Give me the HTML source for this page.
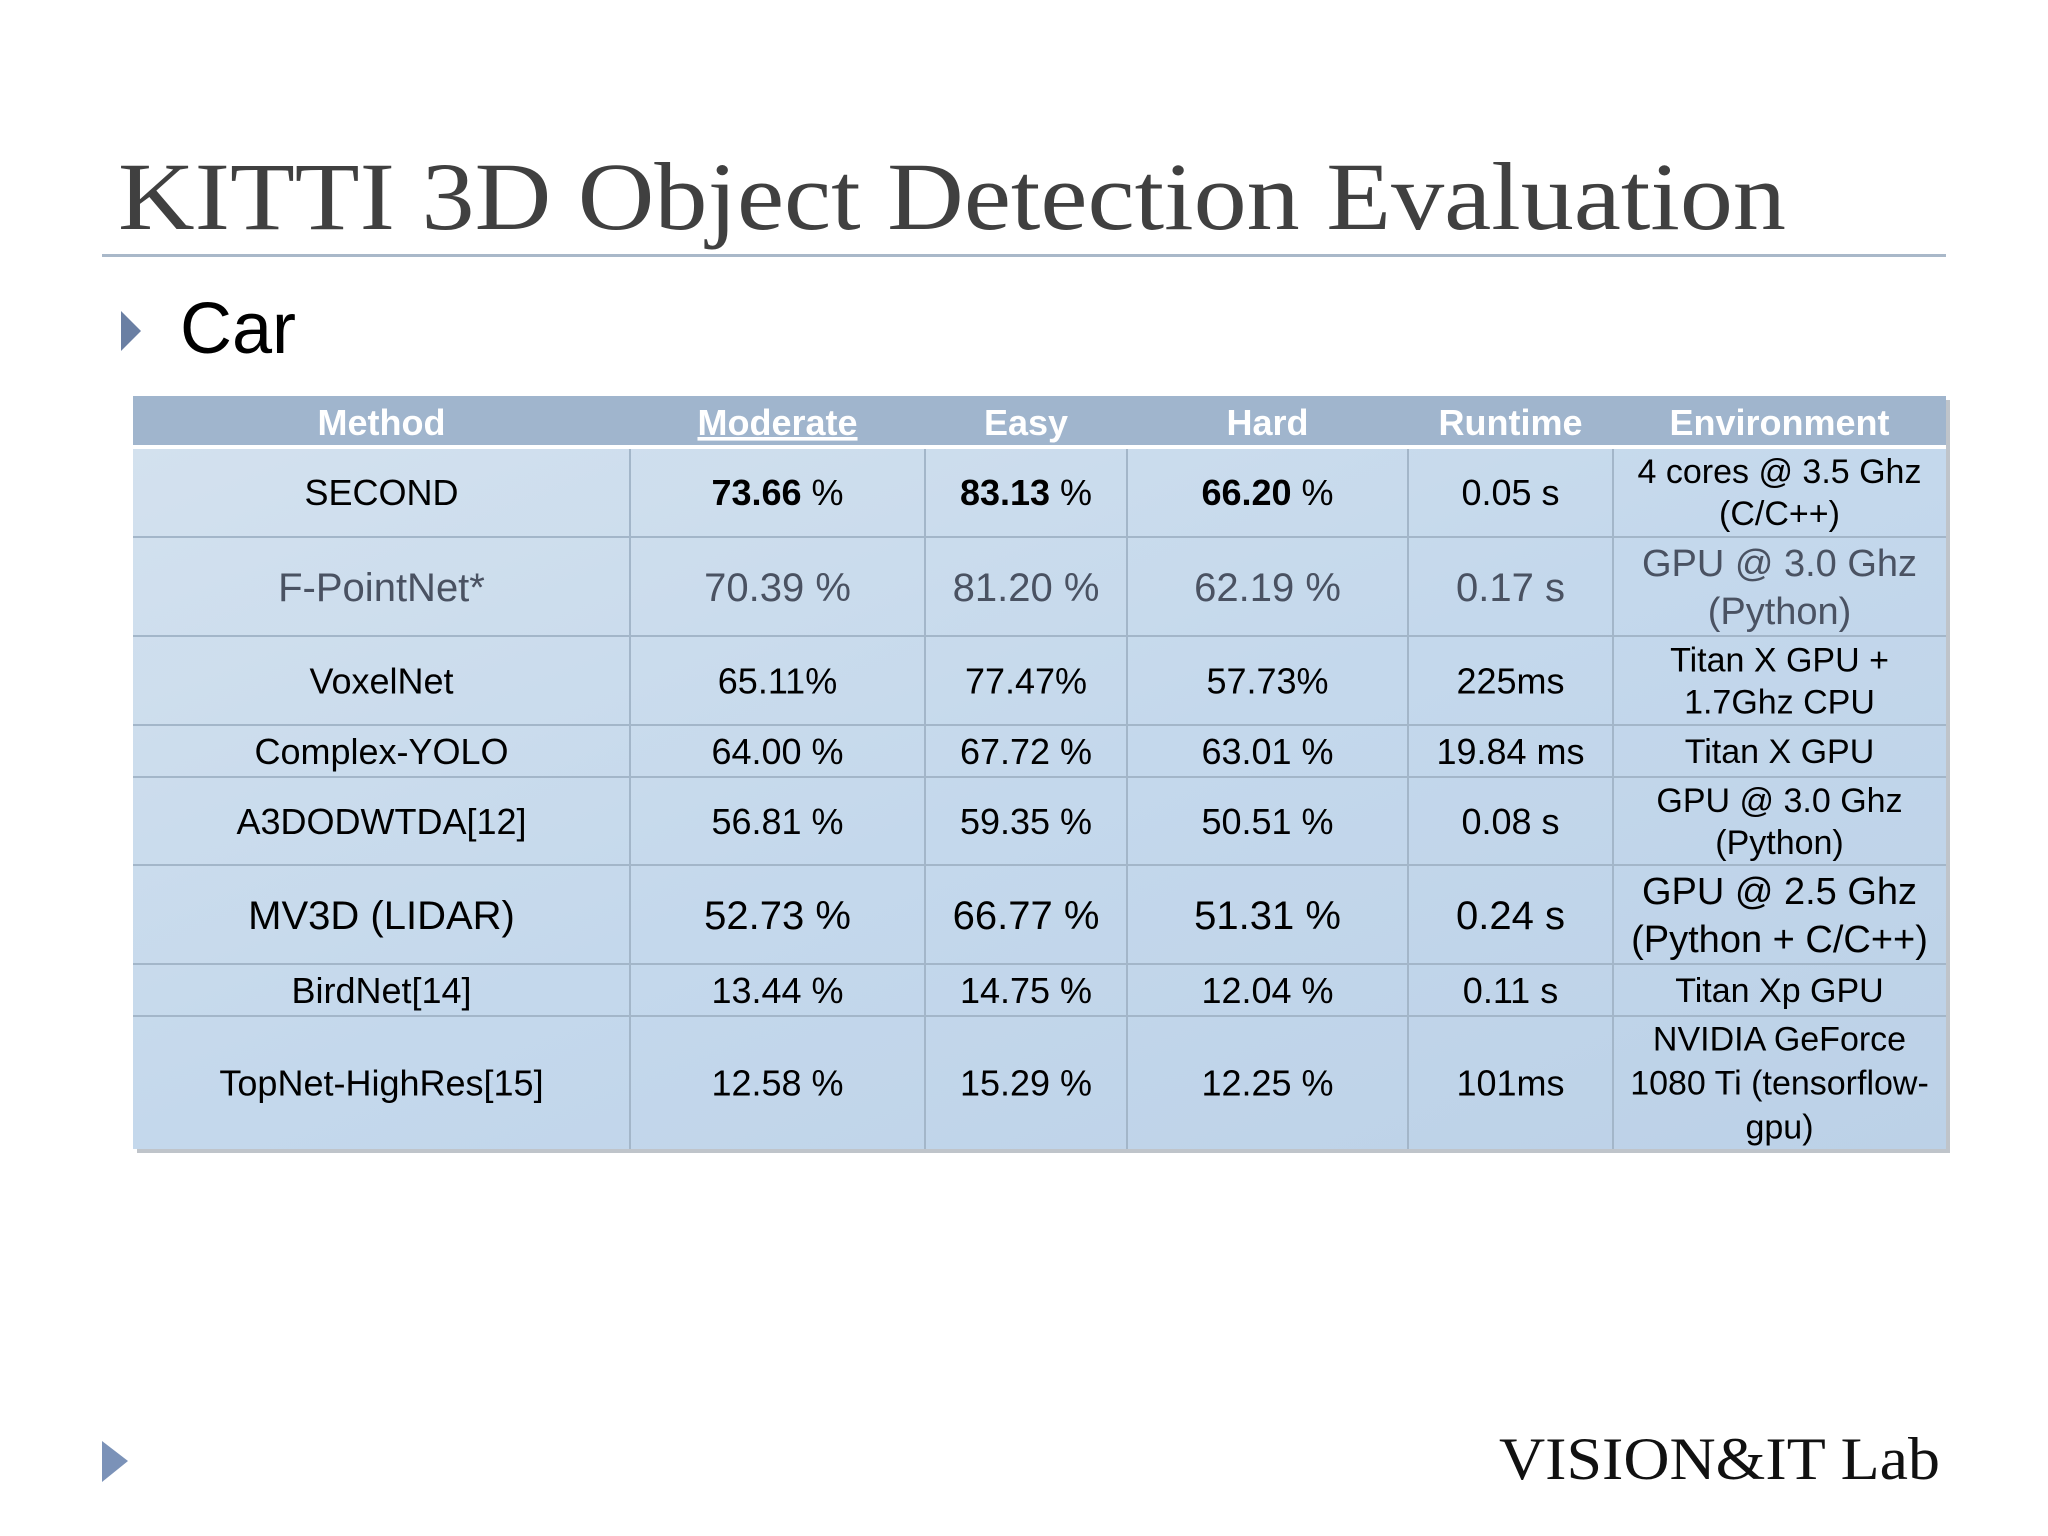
<!DOCTYPE html>
<html><head><meta charset="utf-8"><style>
html,body{margin:0;padding:0;background:#fff;}
svg{display:block;font-family:"Liberation Sans",sans-serif;}
</style></head><body>
<svg id="s" width="2048" height="1536" viewBox="0 0 2048 1536">
<defs>
<linearGradient id="bg" x1="0" y1="0" x2="1" y2="1">
<stop offset="0" stop-color="#d3e1ee"/><stop offset="0.5" stop-color="#c4d8ec"/><stop offset="1" stop-color="#bcd1e7"/>
</linearGradient>
</defs>
<text x="118" y="229" font-family="Liberation Serif, serif" font-size="96" fill="#404040" textLength="1668" lengthAdjust="spacingAndGlyphs">KITTI 3D Object Detection Evaluation</text>
<rect x="102" y="254" width="1844" height="3" fill="#a9b8c9"/>
<polygon points="121,311 141,331 121,351" fill="#6a7fa3"/>
<text x="180" y="353" font-size="72" fill="#000">Car</text>
<g id="tbl"></g>
<polygon points="102,1441 128,1461 102,1482" fill="#7b92b8"/>
<text x="1499" y="1479" font-family="Liberation Serif, serif" font-size="60" fill="#111" textLength="441" lengthAdjust="spacingAndGlyphs">VISION&amp;IT Lab</text>
</svg>
<script>
const headers = ["Method","Moderate","Easy","Hard","Runtime","Environment"];
const methods = ["SECOND","F-PointNet*","VoxelNet","Complex-YOLO","A3DODWTDA[12]","MV3D (LIDAR)","BirdNet[14]","TopNet-HighRes[15]"];
const moderate = ["73.66 %","70.39 %","65.11%","64.00 %","56.81 %","52.73 %","13.44 %","12.58 %"];
const easy = ["83.13 %","81.20 %","77.47%","67.72 %","59.35 %","66.77 %","14.75 %","15.29 %"];
const hard = ["66.20 %","62.19 %","57.73%","63.01 %","50.51 %","51.31 %","12.04 %","12.25 %"];
const runtime = ["0.05 s","0.17 s","225ms","19.84 ms","0.08 s","0.24 s","0.11 s","101ms"];
const env = [["4 cores @ 3.5 Ghz","(C/C++)"],["GPU @ 3.0 Ghz","(Python)"],["Titan X GPU +","1.7Ghz CPU"],["Titan X GPU"],["GPU @ 3.0 Ghz","(Python)"],["GPU @ 2.5 Ghz","(Python + C/C++)"],["Titan Xp GPU"],["NVIDIA GeForce","1080 Ti (tensorflow-","gpu)"]];
const NS="http://www.w3.org/2000/svg";
const g=document.getElementById('tbl');
const cols=[133,630,925,1127,1408,1613,1946];
const rows=[396,447,537,636,725,777,865,964,1016,1149];
function el(t,a,p){const e=document.createElementNS(NS,t);for(const k in a)e.setAttribute(k,a[k]);(p||g).appendChild(e);return e;}
const sh=el('rect',{x:137,y:400,width:1813,height:753,fill:'#bfc4ca'});


const body=el('rect',{x:133,y:447,width:1813,height:702,fill:'url(#bg)'});


const hd=el('rect',{x:133,y:396,width:1813,height:51,fill:'#a0b5cd'});


el('rect',{x:133,y:445,width:1813,height:4,fill:'#fff'});
for(let i=2;i<rows.length-1;i++){el('rect',{x:133,y:rows[i]-1,width:1813,height:2,fill:'#a3b6c9'});}
for(let j=1;j<cols.length-1;j++){el('rect',{x:cols[j]-1,y:449,width:2,height:700,fill:'#a3b6c9'});}
headers.forEach((h,j)=>{
  const t=el('text',{x:(cols[j]+cols[j+1])/2,y:435,'text-anchor':'middle','font-size':36,'font-weight':'bold',fill:'#fff'});
  t.textContent=h;
  if(j===1)t.setAttribute('text-decoration','underline');
  
  
});
methods.forEach((m,i)=>{
  const vals=[m,moderate[i],easy[i],hard[i],runtime[i]];
  const cy=(rows[i+1]+rows[i+2])/2;
  const fs=(i===1||i===5)?40:36;
  const col=i===1?'#4a5262':'#000';
  vals.forEach((v,j)=>{
    const t=el('text',{x:(cols[j]+cols[j+1])/2,y:cy+fs*0.36,'text-anchor':'middle','font-size':fs,fill:col});
    if(i===0&&j>=1&&j<=3){const b=el('tspan',{'font-weight':'bold'},t);b.textContent=v.replace(' %','');const r=el('tspan',{},t);r.textContent=' %';}
    else t.textContent=v;
    
    
  });
  const lines=env[i];const lh=(i===1||i===5)?48:(i===7?44:42);const efs=(i===1||i===5)?38:34;
  lines.forEach((ln,k)=>{
    const t=el('text',{x:(cols[5]+cols[6])/2,y:cy+(k-(lines.length-1)/2)*lh+efs*0.36,'text-anchor':'middle','font-size':efs,fill:col});
    t.textContent=ln;
    
    
  });
});
</script>
</body></html>
